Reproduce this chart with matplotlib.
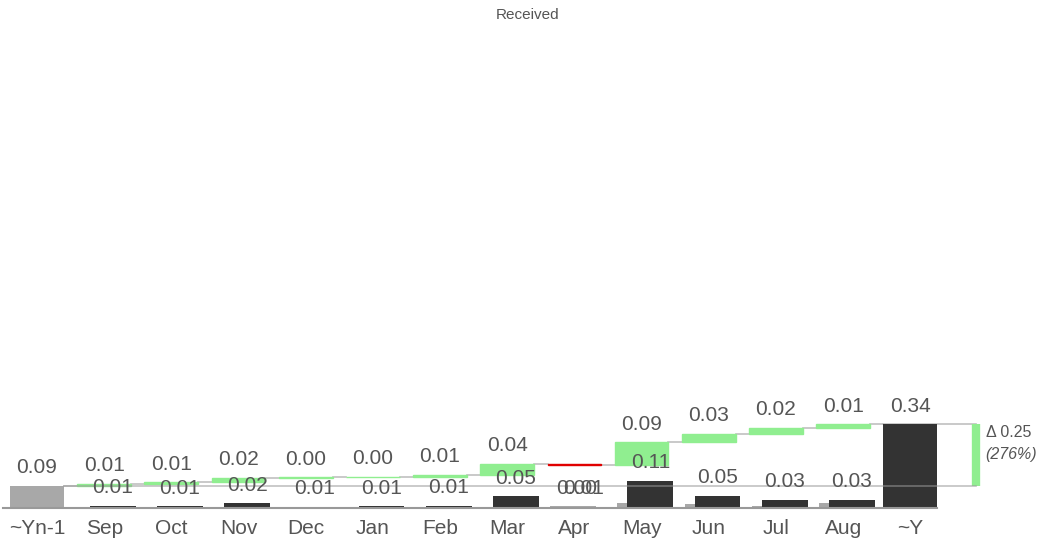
import matplotlib.pyplot as plt
from matplotlib.patches import Rectangle

plt.rcParams['font.family'] = ['Liberation Sans', 'DejaVu Sans']

# monthly values, previous year and current year
months = ['Sep', 'Oct', 'Nov', 'Dec', 'Jan', 'Feb', 'Mar', 'Apr', 'May', 'Jun', 'Jul', 'Aug']
prev_year = [0.0007, 0.001, 0.001, 0.005, 0.004, 0.001, 0.004, 0.009, 0.019, 0.016, 0.010, 0.020]
curr_year = [0.009, 0.008, 0.019, 0.006, 0.007, 0.009, 0.048, 0.006, 0.111, 0.050, 0.034, 0.034]
first_label = '~Yn-1'
last_label = '~Y'
title = 'Received'

total_prev = sum(prev_year)
total_curr = sum(curr_year)
deltas = [c - p for c, p in zip(curr_year, prev_year)]

TXT = '#555555'
GREEN = '#90ee90'
DARK = '#333333'
GREY = '#a8a8a8'
LINE = '#c0c0c0'

fig = plt.figure(figsize=(10.4, 5.41), dpi=100)
ax = fig.add_axes([0, 0.061, 1, 0.88])
n = len(months)
last_x = n + 1

# previous year total
ax.bar(0, total_prev, width=0.8, color=GREY, zorder=2)
ax.annotate(f'{total_prev:.2f}', (0, total_prev), xytext=(0, 6), textcoords='offset points',
            ha='center', va='bottom', fontsize=15, color=TXT)

# waterfall of deltas
cum = total_prev
for i, d in enumerate(deltas):
    x = i + 1
    lo, hi = min(cum, cum + d), max(cum, cum + d)
    col = GREEN if d >= 0 else '#e00000'
    ax.add_patch(Rectangle((x - 0.4, lo), 0.8, hi - lo, facecolor=col, edgecolor=col,
                           linewidth=1.0, zorder=3))
    # connector from previous box
    ax.plot([x - 0.6, x - 0.4], [cum, cum], color=LINE, lw=1.2, zorder=1)
    if d >= 0:
        ax.annotate(f'{abs(d):.2f}', (x, hi), xytext=(0, 6), textcoords='offset points',
                    ha='center', va='bottom', fontsize=15, color=TXT, zorder=5)
    else:
        ax.annotate(f'{abs(d):.2f}', (x + 0.13, curr_year[i]), xytext=(-5, 6),
                    textcoords='offset points', ha='center', va='bottom', fontsize=15,
                    color=TXT, zorder=5)
    cum += d
ax.plot([n + 0.4, last_x - 0.4], [cum, cum], color=LINE, lw=1.2, zorder=1)

# monthly bars: previous year (grey, behind) and current year (dark)
xs = list(range(1, n + 1))
ax.bar([x - 0.36 for x in xs], prev_year, width=0.68, align='edge', color=GREY, zorder=2)
ax.bar([x - 0.21 for x in xs], curr_year, width=0.68, align='edge', color=DARK, zorder=2)
for x, v in zip(xs, curr_year):
    ax.annotate(f'{v:.2f}', (x + 0.13, v), xytext=(0, 6), textcoords='offset points',
                ha='center', va='bottom', fontsize=15, color=TXT, zorder=5)

# current year total
ax.bar(last_x, total_curr, width=0.8, color=DARK, zorder=2)
ax.annotate(f'{total_curr:.2f}', (last_x, total_curr), xytext=(0, 6), textcoords='offset points',
            ha='center', va='bottom', fontsize=15, color=TXT)

# reference lines and delta bracket
bx = last_x + 0.97
ax.plot([0.4, bx], [total_prev, total_prev], color='#999999', lw=1.2, alpha=0.6, zorder=4)
ax.plot([last_x - 0.4, bx], [total_curr, total_curr], color=LINE, lw=1.2, zorder=1)
ax.plot([bx, bx], [total_prev, total_curr], color=GREEN, lw=6, solid_capstyle='butt', zorder=3)
diff = total_curr - total_prev
ax.text(bx + 0.15, total_curr - 0.005, f'\u0394 {diff:.2f}', ha='left', va='top',
        fontsize=11.5, color=TXT)
ax.text(bx + 0.15, (total_prev + total_curr) / 2, f'({diff / total_prev * 100:.0f}%)',
        ha='left', va='center', fontsize=11.5, color=TXT, style='italic')

# baseline
ax.plot([-0.5, last_x + 0.4], [0, 0], color='#999999', lw=1.5, zorder=4, clip_on=False)

ax.set_xlim(-0.55, 14.93)
ax.set_ylim(0, 1.938)
ax.set_xticks(range(0, n + 2))
ax.set_xticklabels([first_label] + months + [last_label], fontsize=15, color=TXT)
ax.tick_params(axis='x', length=0, pad=8)
ax.set_yticks([])
for s in ax.spines.values():
    s.set_visible(False)

fig.text(0.507, 0.972, title, ha='center', va='center', fontsize=11, color=TXT)

fig.savefig('out.png', dpi=100)
